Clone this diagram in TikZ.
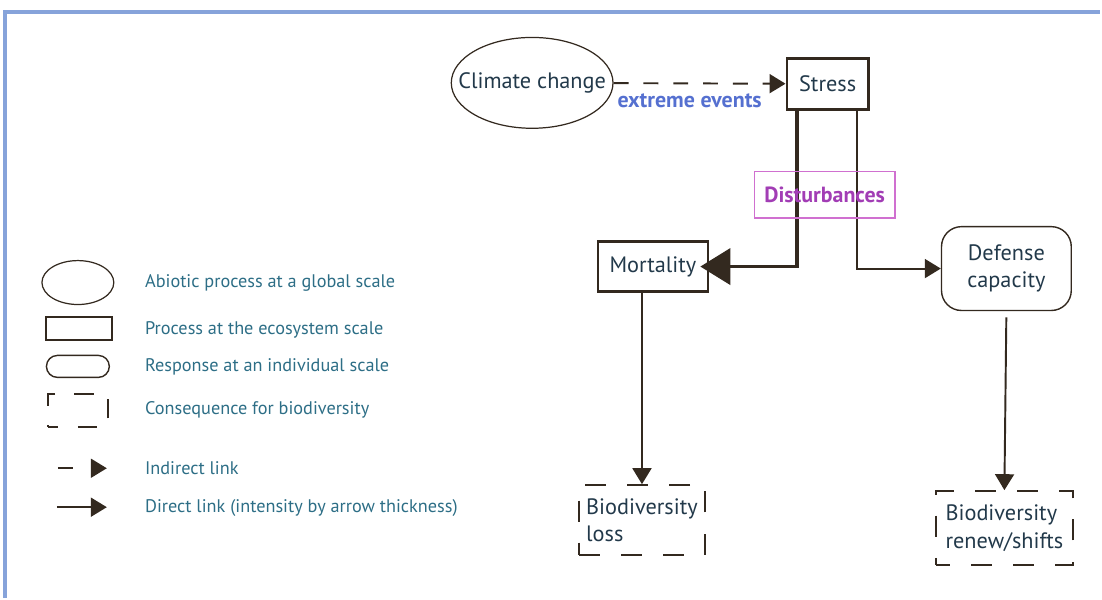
\documentclass[tikz,border=0pt]{standalone}
\usepackage{fontspec}
\setmainfont{PT Sans}
\usetikzlibrary{arrows.meta,shapes.geometric}

\definecolor{trazo}{HTML}{33291F}
\definecolor{punta}{HTML}{2E2E1E}
\definecolor{texto}{HTML}{22394A}
\definecolor{leyenda}{HTML}{2D6E86}
\definecolor{marco}{HTML}{86A3DA}
\definecolor{evento}{HTML}{5570D0}
\definecolor{perturb}{HTML}{A23DB5}
\definecolor{borde}{HTML}{D070D0}

\begin{document}
\begin{tikzpicture}[x=0.02cm, y=-0.02cm,
  nodo/.style={align=center, text=texto, font=\fontsize{12.7}{15.5}\selectfont, inner sep=0pt},
  elipse/.style={nodo, ellipse, draw=trazo, line width=0.7pt},
  caja/.style={nodo, draw=trazo, line width=1.4pt},
  redondeada/.style={nodo, draw=trazo, line width=0.8pt, rounded corners=0.4cm},
  consecuencia/.style={nodo, align=left, draw=trazo, line width=1.2pt, dash pattern=on 12pt off 12pt},
  etiqueta/.style={anchor=west, text=leyenda, font=\fontsize{10.4}{12}\selectfont, inner sep=0pt},
  flecha/.style={-{Triangle[length=0.32cm, width=0.38cm]}, trazo, line width=1.1pt, color=trazo},
  punteada/.style={flecha, dash pattern=on 8.5pt off 8.5pt},
  gruesa/.style={-{Triangle[length=0.6cm, width=0.72cm]}, trazo, line width=2.2pt}]
  % marco
  \draw[marco, line width=2pt] (5,599) -- (5,12) -- (1102,12);
  \useasboundingbox (0,0) rectangle (1102,599);
  % esquema
  \node[elipse, minimum width=3.24cm, minimum height=1.82cm] (clima) at (533,83) {\makebox[1.6cm]{Climate change}};
  \node[caja, minimum width=1.64cm, minimum height=1.02cm] (estres) at (829,84) {Stress};
  \node[caja, minimum width=2.2cm, minimum height=1.0cm] (mort) at (654,267) {Mortality};
  \node[redondeada, minimum width=2.6cm, minimum height=1.68cm] (defensa) at (1008,269) {Defense\\capacity};
  \node[consecuencia, minimum width=2.52cm, minimum height=1.4cm] (perdida) at (643,521) {Biodiversity\\loss};
  \node[consecuencia, minimum width=2.74cm, minimum height=1.48cm, dash phase=4pt] (cambio) at (1006,529) {Biodiversity\\renew/shifts};
  \draw[punteada] (clima) -- node[below=2pt, font=\bfseries\fontsize{12.5}{14}\selectfont, text=evento, xshift=-0.2cm] {extreme events} (estres);
  \draw[gruesa, shorten >=-5pt] ([xshift=-0.62cm]estres.south) |- (mort.east);
  \draw[flecha] ([xshift=0.58cm]estres.south) |- (defensa.west);
  \draw[flecha] (mort.south -| perdida.north) -- (perdida.north);
  \draw[flecha, shorten <=3.5pt] (defensa.south) -- (cambio.north);
  \node[nodo, draw=borde, line width=0.8pt, minimum width=2.82cm, minimum height=0.94cm,
        text=perturb, font=\bfseries\fontsize{12.5}{14}\selectfont] (perturb) at (826,195) {Disturbances};
  % leyenda
  \node[elipse, minimum width=1.44cm, minimum height=0.88cm] (l1) at (78,283) {};
  \node[caja, minimum width=1.32cm, minimum height=0.46cm] (l2) at (79,329) {};
  \node[redondeada, rounded corners=0.22cm, minimum width=1.26cm, minimum height=0.44cm] (l3) at (78,367) {};
  \node[consecuencia, minimum width=1.2cm, minimum height=0.66cm, dash pattern=on 11pt off 11pt, dash phase=5pt] (l4) at (78,411) {};
  \coordinate (l5a) at (58,469);
  \coordinate (l5b) at (107,469);
  \coordinate (l6a) at (57,508);
  \coordinate (l6b) at (107,508);
  \draw[flecha, dash pattern=on 8.5pt off 20pt] (l5a) -- (l5b);
  \draw[flecha] (l6a) -- (l6b);
  \node[etiqueta] (t1) at (145,283) {Abiotic process at a global scale};
  \node[etiqueta] (t2) at (145,330) {Process at the ecosystem scale};
  \node[etiqueta] (t3) at (145,367) {Response at an individual scale};
  \node[etiqueta] (t4) at (145,411) {Consequence for biodiversity};
  \node[etiqueta] (t5) at (145,469) {Indirect link};
  \node[etiqueta] (t6) at (145,509) {Direct link (intensity by arrow thickness)};
\end{tikzpicture}
\end{document}
